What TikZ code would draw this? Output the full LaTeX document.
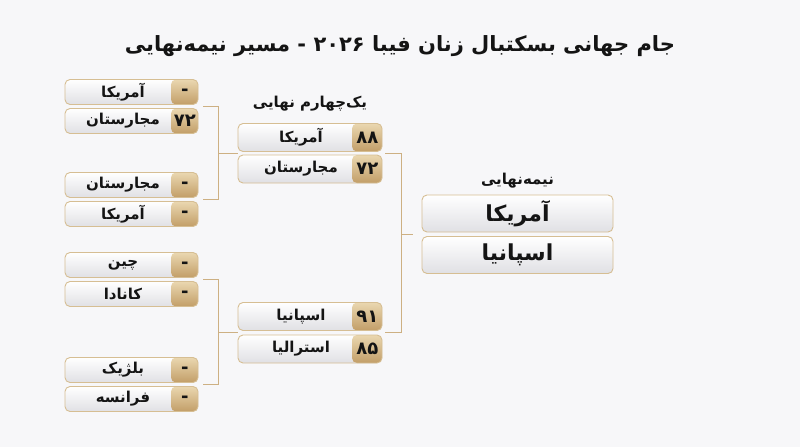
\documentclass[tikz,border=0pt]{standalone}
\usepackage{fontspec}
\usetikzlibrary{calc}
\newfontfamily\fa[Script=Arabic]{DejaVu Sans}
\TeXXeTstate=1
\definecolor{bg}{HTML}{F7F7F9}
\definecolor{gold}{HTML}{CDB083}
\definecolor{goldtop}{HTML}{EAD7B0}
\definecolor{goldbot}{HTML}{C29E68}
\definecolor{boxbot}{HTML}{E0E0E4}
\definecolor{boxline}{HTML}{D6BE93}
\definecolor{ink}{HTML}{141414}

\begin{document}
\begin{tikzpicture}[
            x = 1pt, y = -1pt, % one unit per pixel, y going down
            box/.style = {rectangle, rounded corners=5pt, draw=boxline, line width=0.9pt,
                top color=white, bottom color=boxbot, inner sep=0pt},
            pts/.style = {path picture={\shade[top color=goldtop, bottom color=goldbot]
                ([xshift=-#1]path picture bounding box.south east) rectangle (path picture bounding box.north east);}},
            lbox/.style = {box, pts=27pt, minimum width=133pt, minimum height=25pt},
            qbox/.style = {box, pts=30pt, minimum width=144pt, minimum height=28pt},
            sbox/.style = {box, minimum width=191pt, minimum height=37pt},
            team/.style = {font=\fa\bfseries\fontsize{15}{18}\selectfont, text=ink, inner sep=0pt},
            big/.style = {font=\fa\bfseries\fontsize{22}{26}\selectfont, text=ink, inner sep=0pt},
            score/.style = {team, font=\fa\bfseries\fontsize{18}{20}\selectfont},
            head/.style = {font=\fa\bfseries\fontsize{15}{17}\selectfont, text=ink, inner sep=0pt},
            bracket/.style = {draw=gold, line width=1.2pt} % bracket lines
        ]
\fill[bg] (0,0) rectangle (800,447);
\useasboundingbox (0,0) rectangle (800,447);

\node[font=\fa\bfseries\fontsize{21}{26}\selectfont, text=ink] (title) at (400,46)
    {\beginR جام جهانی بسکتبال زنان فیبا ۲۰۲۶ - مسیر نیمه‌نهایی\endR};
\node[head] (qhead) at (310,104) {\beginR یک‌چهارم نهایی\endR};
\node[head] (shead) at (517.5,181) {\beginR نیمه‌نهایی\endR};

% first round
\node[lbox] (l1) at (131.5,92) {};
\node[team] (l1t) at ([xshift=-8.5]l1) {\beginR آمریکا\endR};
\node[score] (l1s) at ([xshift=-13.5]l1.east) {-};
\node[lbox] (l2) at (131.5,121) {};
\node[team] (l2t) at ([xshift=-8.5]l2) {\beginR مجارستان\endR};
\node[score] (l2s) at ([xshift=-13.5]l2.east) {۷۲};
\node[lbox] (l3) at (131.5,185) {};
\node[team] (l3t) at ([xshift=-8.5]l3) {\beginR مجارستان\endR};
\node[score] (l3s) at ([xshift=-13.5]l3.east) {-};
\node[lbox] (l4) at (131.5,214) {};
\node[team] (l4t) at ([xshift=-8.5]l4) {\beginR آمریکا\endR};
\node[score] (l4s) at ([xshift=-13.5]l4.east) {-};
\node[lbox] (l5) at (131.5,265) {};
\node[team] (l5t) at ([xshift=-8.5]l5) {\beginR چین\endR};
\node[score] (l5s) at ([xshift=-13.5]l5.east) {-};
\node[lbox] (l6) at (131.5,294) {};
\node[team] (l6t) at ([xshift=-8.5]l6) {\beginR کانادا\endR};
\node[score] (l6s) at ([xshift=-13.5]l6.east) {-};
\node[lbox] (l7) at (131.5,370) {};
\node[team] (l7t) at ([xshift=-8.5]l7) {\beginR بلژیک\endR};
\node[score] (l7s) at ([xshift=-13.5]l7.east) {-};
\node[lbox] (l8) at (131.5,399) {};
\node[team] (l8t) at ([xshift=-8.5]l8) {\beginR فرانسه\endR};
\node[score] (l8s) at ([xshift=-13.5]l8.east) {-};

% quarter finals
\node[qbox] (q1) at (310,137.5) {};
\node[team] (q1t) at ([xshift=-9]q1) {\beginR آمریکا\endR};
\node[score] (q1s) at ([xshift=-15]q1.east) {۸۸};
\node[qbox] (q2) at (310,169) {};
\node[team] (q2t) at ([xshift=-9]q2) {\beginR مجارستان\endR};
\node[score] (q2s) at ([xshift=-15]q2.east) {۷۲};
\node[qbox] (q3) at (310,316.5) {};
\node[team] (q3t) at ([xshift=-9]q3) {\beginR اسپانیا\endR};
\node[score] (q3s) at ([xshift=-15]q3.east) {۹۱};
\node[qbox] (q4) at (310,349) {};
\node[team] (q4t) at ([xshift=-9]q4) {\beginR استرالیا\endR};
\node[score] (q4s) at ([xshift=-15]q4.east) {۸۵};

% semi final
\node[sbox] (s1) at (517.5,213.5) {};
\node[big] (s1t) at (s1) {\beginR آمریکا\endR};
\node[sbox] (s2) at (517.5,255) {};
\node[big] (s2t) at (s2) {\beginR اسپانیا\endR};

% brackets
\coordinate (g1) at ($(l1.south east)!.5!(l2.north east)$);
\coordinate (g2) at ($(l3.south east)!.5!(l4.north east)$);
\coordinate (g3) at ($(l5.south east)!.5!(l6.north east)$);
\coordinate (g4) at ($(l7.south east)!.5!(l8.north east)$);
\coordinate (h1) at ($(q1.south east)!.5!(q2.north east)$);
\coordinate (h2) at ($(q3.south east)!.5!(q4.north east)$);
\coordinate (k1) at ($(q1.south west)!.5!(q2.north west)$);
\coordinate (k2) at ($(q3.south west)!.5!(q4.north west)$);
\coordinate (m1) at ($(s1.south west)!.5!(s2.north west)$);
\coordinate (v1) at ([xshift=20]g1);
\coordinate (v2) at ([xshift=20]g3);
\coordinate (v3) at ([xshift=19]h1);

\draw[bracket] ([xshift=5]g1) -- (v1) -- ([xshift=20]g2) -- ([xshift=5]g2);
\draw[bracket] (v1 |- k1) -- (k1);
\draw[bracket] ([xshift=5]g3) -- (v2) -- ([xshift=20]g4) -- ([xshift=5]g4);
\draw[bracket] (v2 |- k2) -- (k2);
\draw[bracket] ([xshift=3]h1) -- (v3) -- ([xshift=19]h2) -- ([xshift=3]h2);
\draw[bracket] (v3 |- m1) -- ([xshift=-9]m1);
\end{tikzpicture}
\end{document}
